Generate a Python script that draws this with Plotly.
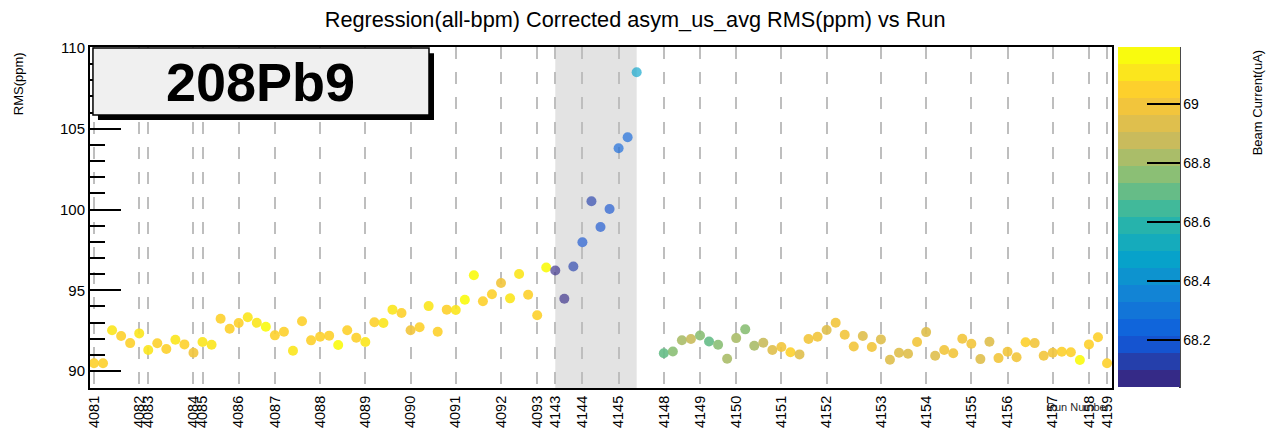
import plotly.graph_objects as go

# ---------------- data ----------------
runs = [4081, 4082, 4083, 4084, 4085, 4086, 4087, 4088, 4089, 4090, 4091, 4092, 4093,
        4143, 4144, 4145, None,
        4148, 4149, 4150, 4151, 4152, 4153, 4154, 4155, 4156, 4157, 4158, 4159]
npts = [5, 1, 5, 1, 4, 4, 5, 5, 5, 5, 5, 4, 2,
        3, 4, 3, 2,
        4, 4, 5, 5, 6, 5, 5, 4, 5, 4, 2, 1]

rms = [
    90.48, 90.48, 92.52, 92.17, 91.73,            # 4081
    92.33,                                        # 4082
    91.30, 91.72, 91.36, 91.94, 91.65,            # 4083
    91.13,                                        # 4084
    91.80, 91.63, 93.24, 92.62,                   # 4085
    92.97, 93.33, 92.99, 92.74,                   # 4086
    92.21, 92.43, 91.26, 93.08, 91.90,            # 4087
    92.12, 92.19, 91.61, 92.52, 92.06,            # 4088
    91.80, 93.02, 92.97, 93.80, 93.59,            # 4089
    92.52, 92.71, 94.02, 92.43, 93.80,            # 4090
    93.78, 94.41, 95.93, 94.32, 94.75,            # 4091
    95.45, 94.50, 96.01, 94.72,                   # 4092
    93.45, 96.41,                                 # 4093
    96.22, 94.48, 96.47,                          # 4143
    97.97, 100.51, 98.92, 100.03,                 # 4144
    103.79, 104.47, 108.50,                       # 4145
    None, None,                                   # (no points)
    91.10, 91.21, 91.91, 91.98,                   # 4148
    92.20, 91.83, 91.63, 90.76,                   # 4149
    92.04, 92.58, 91.57, 91.75, 91.30,            # 4150
    91.49, 91.16, 91.03, 91.98, 92.12,            # 4151
    92.54, 92.99, 92.25, 91.52, 92.17, 91.49,     # 4152
    91.96, 90.70, 91.13, 91.07, 91.80,            # 4153
    92.41, 90.95, 91.30, 91.10, 92.00,            # 4154
    91.69, 90.74, 91.81, 90.80,                   # 4155
    91.19, 90.85, 91.78, 91.73, 90.95,            # 4156
    91.13, 91.19, 91.16, 90.68,                   # 4157
    91.65, 92.09,                                 # 4158
    90.48,                                        # 4159
]

current = [
    69.05, 69.05, 69.08, 69.05, 69.05,
    69.10,
    69.10, 69.02, 69.05, 69.10, 69.03,
    69.00,
    69.10, 69.12, 69.05, 69.05,
    69.05, 69.10, 69.08, 69.15,
    69.05, 69.03, 69.12, 69.05, 69.05,
    69.03, 69.02, 69.15, 69.05, 69.07,
    69.10, 69.05, 69.08, 69.12, 69.05,
    69.00, 69.03, 69.10, 69.03, 69.05,
    69.12, 69.15, 69.15, 69.03, 69.07,
    69.00, 69.12, 69.12, 69.07,
    69.05, 69.15,
    68.05, 68.06, 68.10,
    68.16, 68.15, 68.16, 68.16,
    68.26, 68.26, 68.45,
    None, None,
    68.68, 68.75, 68.80, 68.87,
    68.75, 68.70, 68.76, 68.80,
    68.80, 68.78, 68.80, 68.85, 68.93,
    68.97, 69.02, 68.93, 69.00, 68.98,
    68.93, 68.98, 69.00, 69.00, 68.93, 68.97,
    68.93, 68.95, 68.95, 68.95, 68.97,
    68.92, 68.92, 68.97, 68.98, 68.98,
    68.97, 68.95, 68.93, 68.98,
    68.98, 68.97, 69.05, 69.00, 68.98,
    69.00, 69.07, 69.02, 69.18,
    69.03, 69.05,
    69.07,
]

highlight_runs = [4143, 4144, 4145]
cbar_ticks = [68.2, 68.4, 68.6, 68.8, 69.0]
cbar_ticktext = ["68.2", "68.4", "68.6", "68.8", "69"]
cmin, cmax = 68.04, 69.19

title = "Regression(all-bpm) Corrected asym_us_avg RMS(ppm) vs Run"
label = "208Pb9"

# ---------------- derived ----------------
tickvals, ticktext = [], []
run_first, run_last = {}, {}
point_run = []
pos = 0
for r, n in zip(runs, npts):
    if r is not None:
        tickvals.append(pos)
        ticktext.append(str(r))
        run_first[r] = pos
        run_last[r] = pos + n - 1
    point_run.extend([r] * n)
    pos += n

groups = {True: ([], [], []), False: ([], [], [])}
for i, (v, c, r) in enumerate(zip(rms, current, point_run)):
    if v is None:
        continue
    g = groups[r in highlight_runs]
    g[0].append(i)
    g[1].append(v)
    g[2].append(c)

# ROOT kBird palette, 20 discrete bands
stops = [0.0, 0.125, 0.25, 0.375, 0.5, 0.625, 0.75, 0.875, 1.0]
red = [0.2082, 0.0592, 0.0780, 0.0232, 0.1802, 0.5301, 0.8186, 0.9956, 0.9764]
green = [0.1664, 0.3599, 0.5041, 0.6419, 0.7178, 0.7492, 0.7328, 0.7862, 0.9832]
blue = [0.5293, 0.8684, 0.8385, 0.7914, 0.6425, 0.4662, 0.3499, 0.1968, 0.0539]


def bird(t):
    for i in range(len(stops) - 1):
        if t <= stops[i + 1]:
            f = (t - stops[i]) / (stops[i + 1] - stops[i])
            return tuple(int(round(255 * (c[i] + f * (c[i + 1] - c[i])))) for c in (red, green, blue))
    return tuple(int(round(255 * c[-1])) for c in (red, green, blue))


nb = 20
colorscale = []
for k in range(nb):
    rgb = bird(k / (nb - 1))
    col = "rgb(%d,%d,%d)" % rgb
    colorscale.append([k / nb, col])
    colorscale.append([(k + 1) / nb, col])

FONT = "Liberation Sans, Arial, Helvetica, sans-serif"

fig = go.Figure()
for hl, op in ((False, 0.9), (True, 0.66)):
    gx, gy, gc = groups[hl]
    fig.add_trace(go.Scatter(
        x=gx, y=gy, mode="markers",
        marker=dict(size=10, color=gc, coloraxis="coloraxis", opacity=op, line=dict(width=0)),
        showlegend=False, hoverinfo="x+y",
    ))

x0 = run_first[highlight_runs[0]]
x1 = run_last[highlight_runs[-1]]
shapes = [
    dict(type="rect", xref="x", yref="paper", x0=x0, x1=x1, y0=0, y1=1,
         fillcolor="rgb(227,227,227)", line=dict(width=0), layer="below"),
    # colorbar axis line
    dict(type="line", xref="paper", yref="paper", x0=1.0665, x1=1.0665, y0=0.0, y1=1.0,
         line=dict(color="black", width=1.5)),
    # label shadow
    dict(type="rect", xref="paper", yref="paper", x0=0.0078, x1=0.3366, y0=0.786, y1=0.982,
         fillcolor="black", line=dict(width=0), layer="above"),
    # label box
    dict(type="rect", xref="paper", yref="paper", x0=0.0029, x1=0.3317, y0=0.8006, y1=0.997,
         fillcolor="rgb(240,240,240)", line=dict(color="black", width=1.5), layer="above"),
]

annotations = [
    dict(text="<b>%s</b>" % label, xref="paper", yref="paper", x=0.1673, y=0.897,
         xanchor="center", yanchor="middle", showarrow=False,
         font=dict(size=54, color="black", family=FONT)),
    dict(text="RMS(ppm)", xref="paper", yref="paper", x=-0.0705, y=0.992, textangle=-90,
         xanchor="center", yanchor="top", showarrow=False,
         font=dict(size=13, color="black", family=FONT)),
    dict(text="Beam Current(uA)", xref="paper", yref="paper", x=1.142, y=0.995, textangle=-90,
         xanchor="center", yanchor="top", showarrow=False,
         font=dict(size=13, color="black", family=FONT)),
    dict(text="Run Number", xref="paper", yref="paper", x=1.0, y=-0.056,
         xanchor="right", yanchor="middle", showarrow=False,
         font=dict(size=11, color="rgb(40,40,40)", family=FONT)),
]

# the page body adds an 8px margin, so the figure is 8px smaller on each axis
fig.update_layout(
    width=1272, height=424,
    margin=dict(l=82, r=168, t=39, b=44, autoexpand=False),
    paper_bgcolor="white", plot_bgcolor="white",
    title=dict(text=title, x=0.493, xref="container", xanchor="center", y=0.974, yref="container",
               yanchor="middle", font=dict(size=21.7, color="black", family=FONT)),
    font=dict(family=FONT, color="black"),
    shapes=shapes, annotations=annotations,
    coloraxis=dict(colorscale=colorscale, cmin=cmin, cmax=cmax,
                   colorbar=dict(thickness=62, thicknessmode="pixels", len=0.998, lenmode="fraction",
                                 x=1.0059, xanchor="left", xpad=0, y=0.5, yanchor="middle", ypad=0,
                                 outlinewidth=0, ticks="inside", ticklen=33, tickwidth=1.5,
                                 tickcolor="black", tickvals=cbar_ticks, ticktext=cbar_ticktext,
                                 tickfont=dict(size=14, color="black", family=FONT))),
    xaxis=dict(range=[-0.44, 112.55], tickvals=tickvals, ticktext=ticktext, tickangle=-90,
               tickfont=dict(size=14.5, color="black", family=FONT),
               showgrid=True, gridcolor="rgb(190,190,190)", gridwidth=1.5, griddash="12px,13px",
               zeroline=False, showline=True, linecolor="black", linewidth=2, mirror=True,
               ticks="", fixedrange=True),
    yaxis=dict(range=[88.95, 110.06], tickvals=[90, 95, 100, 105, 110],
               tickfont=dict(size=15, color="black", family=FONT),
               ticks="inside", ticklen=31, tickwidth=1.5, tickcolor="black",
               minor=dict(ticks="inside", ticklen=15, tickwidth=1.5, tickcolor="black", dtick=1,
                          showgrid=False),
               showgrid=False, zeroline=False, showline=True, linecolor="black", linewidth=2,
               mirror=True, fixedrange=True),
)

fig.write_html("out.html")
